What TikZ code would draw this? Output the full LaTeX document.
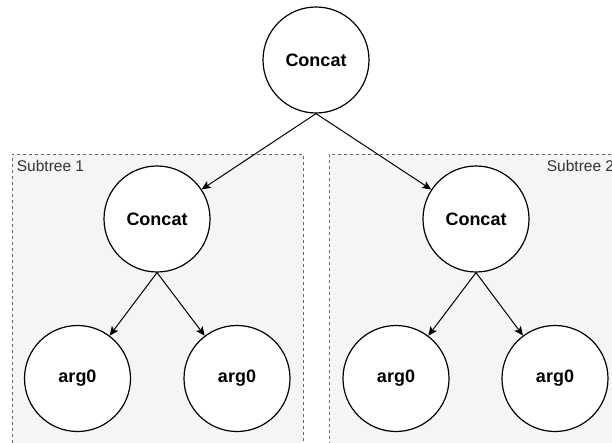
\documentclass[tikz,border=0pt]{standalone}
\usepackage{fontspec}
\setmainfont{Liberation Sans}
\usetikzlibrary{arrows.meta}
\definecolor{boxfill}{HTML}{F5F5F5}
\definecolor{boxline}{HTML}{666666}
\definecolor{labeltext}{HTML}{333333}
\tikzset{
  subtreebox/.style={draw=boxline, fill=boxfill, dash pattern=on 3pt off 3pt, line width=0.8pt, inner sep=0pt, anchor=north west},
  opnode/.style={circle, draw=black, fill=white, line width=1.2pt, minimum size=106pt, inner sep=0pt, font=\fontsize{18}{20}\selectfont\bfseries},
  boxlabel/.style={anchor=base west, inner sep=0pt, text=labeltext, font=\fontsize{15.5}{18}\selectfont},
  link/.style={draw=black, line width=1pt, -{Stealth[length=9pt,width=8pt,inset=2pt]}}
}
\begin{document}
\begin{tikzpicture}[x=1pt,y=-1pt]
\useasboundingbox (0,0) rectangle (612,443);
\clip (0,0) rectangle (612,443);
\fill[white] (0,0) rectangle (612,443);
\node[subtreebox, minimum width=291pt, minimum height=320pt] (box1) at (12,154) {};
\node[subtreebox, minimum width=293pt, minimum height=320pt] (box2) at (329,154) {};
\node[boxlabel] (lab1) at (16.7,172) {Subtree 1};
\node[boxlabel] (lab2) at (546.7,172) {Subtree 2};
\node[opnode] (root) at (316,60) {Concat};
\node[opnode] (left) at (157,219) {Concat};
\node[opnode] (right) at (476,219) {Concat};
\node[opnode] (a1) at (77.5,378.5) {arg0};
\node[opnode] (a2) at (237,378.5) {arg0};
\node[opnode] (a3) at (396,378.5) {arg0};
\node[opnode] (a4) at (555,378.5) {arg0};
\draw[link] (root.south) -- (left);
\draw[link] (root.south) -- (right);
\draw[link] (left.south) -- (a1);
\draw[link] (left.south) -- (a2);
\draw[link] (right.south) -- (a3);
\draw[link] (right.south) -- (a4);
\end{tikzpicture}
\end{document}
